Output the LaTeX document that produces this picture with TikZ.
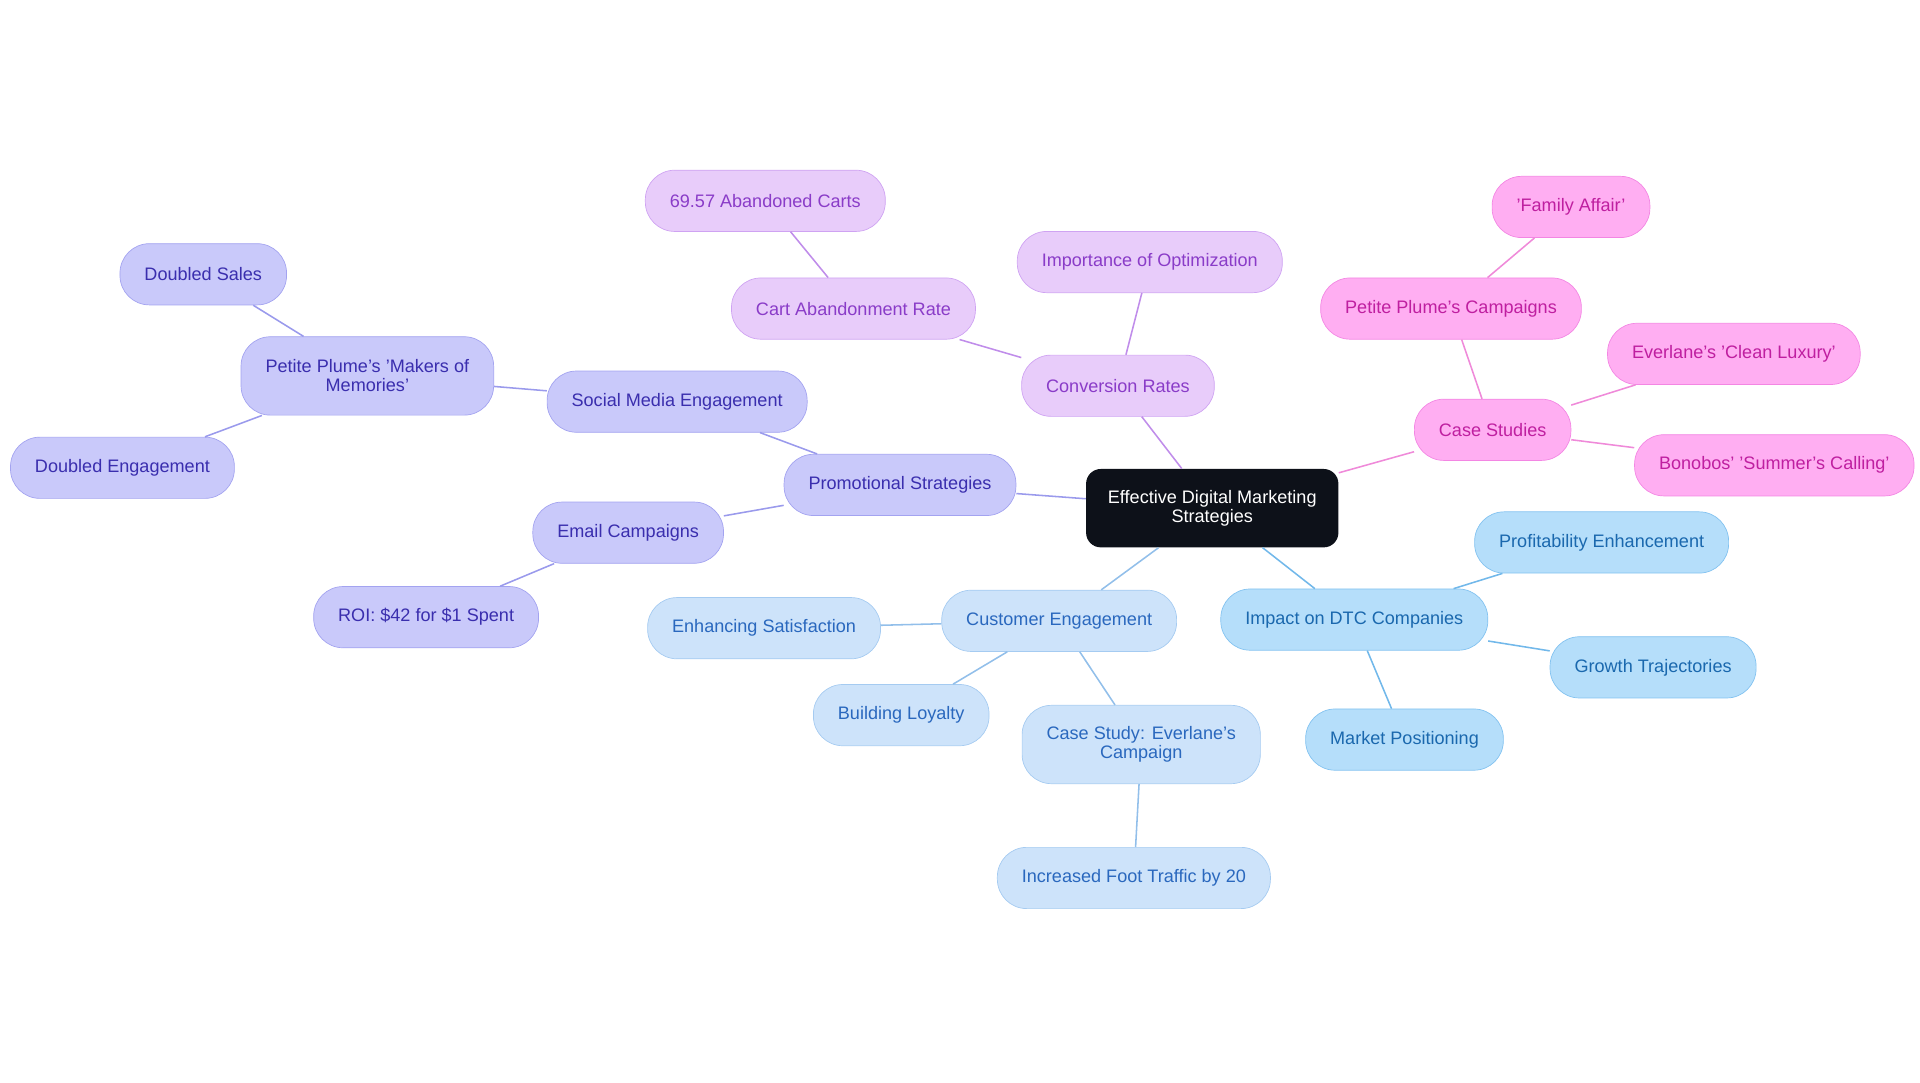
\documentclass[tikz,border=0pt]{standalone}
\usepackage{fontspec}
\setmainfont{Liberation Sans}
\usetikzlibrary{positioning}

\definecolor{rootfill}{HTML}{0D1119}
\definecolor{purfill}{HTML}{E8CCFA}\definecolor{purdraw}{HTML}{CFA3F2}\definecolor{purtext}{HTML}{8A3CC8}\definecolor{purline}{HTML}{C08DEA}
\definecolor{pinkfill}{HTML}{FFAEF2}\definecolor{pinkdraw}{HTML}{F386E3}\definecolor{pinktext}{HTML}{BF1FA0}\definecolor{pinkline}{HTML}{EF8AD9}
\definecolor{indfill}{HTML}{C9C9FA}\definecolor{inddraw}{HTML}{A3A3F0}\definecolor{indtext}{HTML}{3A2EAE}\definecolor{indline}{HTML}{9A9AEC}
\definecolor{lbfill}{HTML}{CDE3FA}\definecolor{lbdraw}{HTML}{A5CBF1}\definecolor{lbtext}{HTML}{2A68BE}\definecolor{lbline}{HTML}{92BFEA}
\definecolor{skyfill}{HTML}{B5DEFA}\definecolor{skydraw}{HTML}{82C2F0}\definecolor{skytext}{HTML}{1A68AE}\definecolor{skyline}{HTML}{72B8EA}

\begin{document}
\begin{tikzpicture}[x=0.025cm, y=-0.025cm, font=\fontsize{10.5}{11}\selectfont]
	    \tikzstyle{leaf}=[rounded corners=0.6cm, minimum height=1.25cm, inner xsep=0.5cm, align=center]
	    \tikzstyle{pur}=[leaf, fill=purfill, draw=purdraw, text=purtext]
	    \tikzstyle{pink}=[leaf, fill=pinkfill, draw=pinkdraw, text=pinktext]
	    \tikzstyle{ind}=[leaf, fill=indfill, draw=inddraw, text=indtext]
	    \tikzstyle{lb}=[leaf, fill=lbfill, draw=lbdraw, text=lbtext]
	    \tikzstyle{sky}=[leaf, fill=skyfill, draw=skydraw, text=skytext]
	    \useasboundingbox (0,0) rectangle (1568,884);

	    \node[fill=rootfill, text=white, rounded corners=0.3cm, minimum height=1.6cm, minimum width=5.15cm, align=center] (root) at (990,415) {Effective Digital Marketing\\Strategies};

	    \node[pur] (conv) at (913,315) {Conversion Rates};
	    \node[pur] (optim) at (939,214) {Importance of Optimization};
	    \node[pur] (cart) at (697,252) {Cart Abandonment Rate};
	    \node[pur] (carts) at (625,164) {69.57 Abandoned Carts};

	    \node[pink] (cases) at (1219,351) {Case Studies};
	    \node[pink] (plumecamp) at (1185,252) {Petite Plume's Campaigns};
	    \node[pink] (family) at (1283,169) {'Family Affair'};
	    \node[pink] (clean) at (1416,289) {Everlane's 'Clean Luxury'};
	    \node[pink] (bonobos) at (1449,380) {Bonobos' 'Summer's Calling'};

	    \node[ind] (promo) at (735,396) {Promotional Strategies};
	    \node[ind] (social) at (553,328) {Social Media Engagement};
	    \node[ind, minimum height=1.6cm] (makers) at (300,307) {Petite Plume's 'Makers of\\Memories'};
	    \node[ind] (sales) at (166,224) {Doubled Sales};
	    \node[ind] (engage) at (100,382) {Doubled Engagement};
	    \node[ind] (email) at (513,435) {Email Campaigns};
	    \node[ind] (roi) at (348,504) {ROI: \$42 for \$1 Spent};

	    \node[lb] (cust) at (865,507) {Customer Engagement};
	    \node[lb] (satis) at (624,513) {Enhancing Satisfaction};
	    \node[lb] (loyal) at (736,584) {Building Loyalty};
	    \node[lb, minimum height=1.6cm] (everlane) at (932,608) {Case Study: Everlane's\\Campaign};
	    \node[lb] (foot) at (926,717) {Increased Foot Traffic by 20};

	    \node[sky] (impact) at (1106,506) {Impact on DTC Companies};
	    \node[sky] (profit) at (1308,443) {Profitability Enhancement};
	    \node[sky] (growth) at (1350,545) {Growth Trajectories};
	    \node[sky] (market) at (1147,604) {Market Positioning};

	    \begin{scope}[line width=0.9pt]
	    \path[draw=purline] (root) -- (conv) (conv) -- (optim) (conv) -- (cart) (cart) -- (carts);
	    \path[draw=pinkline] (root) -- (cases) (cases) -- (plumecamp) (plumecamp) -- (family) (cases) -- (clean) (cases) -- (bonobos);
	    \path[draw=indline] (root) -- (promo) (promo) -- (social) (social) -- (makers) (makers) -- (sales) (makers) -- (engage) (promo) -- (email) (email) -- (roi);
	    \path[draw=lbline] (root) -- (cust) (cust) -- (satis) (cust) -- (loyal) (cust) -- (everlane) (everlane) -- (foot);
	    \path[draw=skyline] (root) -- (impact) (impact) -- (profit) (impact) -- (growth) (impact) -- (market);
	    \end{scope}
\end{tikzpicture}
\end{document}
